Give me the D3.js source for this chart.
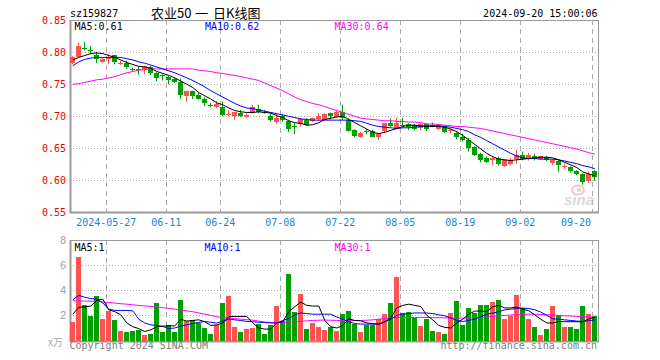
<!DOCTYPE html>
<html>
<head>
<meta charset="utf-8">
<script src="https://cdn.jsdelivr.net/npm/d3@7/dist/d3.min.js"></script>
<style>
html,body{margin:0;padding:0;background:#fff;}
svg{display:block;}
.mono{font-family:"DejaVu Sans Mono",monospace;font-size:10px;}
</style>
</head>
<body>
<svg id="chart" width="660" height="360"></svg>
<script>
// ---------------- data ----------------
const dates = ["05-17","05-20","05-21","05-22","05-23","05-24","05-27","05-28","05-29","05-30","05-31",
"06-03","06-04","06-05","06-06","06-07","06-11","06-12","06-13","06-14","06-17","06-18","06-19","06-20","06-21","06-24",
"06-25","06-26","06-27","06-28","07-01","07-02","07-03","07-04","07-05","07-08","07-09","07-10","07-11","07-12",
"07-15","07-16","07-17","07-18","07-19","07-22","07-23","07-24","07-25","07-26","07-29","07-30","07-31",
"08-01","08-02","08-05","08-06","08-07","08-08","08-09","08-12","08-13","08-14","08-15","08-16","08-19","08-20",
"08-21","08-22","08-23","08-26","08-27","08-28","08-29","08-30","09-02","09-03","09-04","09-05","09-06","09-09",
"09-10","09-11","09-12","09-13","09-18","09-19","09-20"];

const openP = [.783,.793,.806,.804,.796,.785,.790,.795,.783,.783,.774,.774,.772,.777,.767,.764,.762,.758,.753,.732,
.740,.734,.727,.717,.715,.714,.703,.700,.705,.699,.705,.712,.7075,.700,.692,.700,.693,.6855,.688,.695,
.693,.695,.695,.705,.699,.707,.695,.678,.668,.6765,.677,.668,.676,.690,.681,.6865,.688,.687,.681,.688,
.687,.680,.684,.677,.674,.668,.663,.652,.641,.635,.632,.635,.622,.626,.632,.640,.633,.638,.634,.636,
.626,.630,.621,.621,.615,.610,.599,.615];
const closeP = [.792,.810,.805,.803,.789,.790,.793,.784,.784,.776,.773,.773,.778,.768,.759,.763,.757,.754,.732,.740,
.732,.728,.721,.716,.720,.702,.704,.707,.700,.702,.715,.707,.707,.693,.698,.693,.680,.685,.696,.687,
.697,.700,.704,.700,.707,.697,.678,.668,.674,.676,.668,.672,.689,.685,.690,.686,.684,.681,.688,.680,
.686,.686,.676,.678,.667,.663,.650,.640,.632,.628,.635,.626,.631,.632,.639,.633,.640,.633,.638,.631,
.631,.624,.622,.615,.610,.598,.610,.605];
const highP = [.794,.815,.816,.810,.801,.792,.797,.796,.787,.787,.776,.777,.779,.779,.769,.766,.763,.760,.759,.740,
.740,.737,.730,.721,.724,.723,.710,.707,.710,.705,.718,.718,.710,.705,.705,.704,.695,.689,.698,.697,
.698,.705,.705,.706,.709,.718,.697,.680,.676,.680,.679,.673,.690,.697,.698,.698,.689,.688,.689,.689,
.690,.688,.686,.681,.676,.673,.666,.653,.643,.637,.637,.637,.633,.635,.648,.645,.643,.641,.638,.638,
.633,.632,.626,.622,.616,.611,.614,.616];
const lowP = [.781,.793,.803,.797,.783,.784,.781,.781,.780,.774,.770,.765,.766,.765,.755,.756,.750,.752,.727,.723,
.727,.726,.716,.714,.713,.700,.700,.694,.699,.698,.704,.705,.704,.692,.688,.691,.675,.672,.684,.685,
.691,.693,.694,.695,.698,.694,.676,.667,.667,.672,.667,.663,.674,.683,.679,.683,.679,.678,.678,.677,
.683,.679,.674,.673,.664,.661,.645,.638,.628,.627,.624,.623,.621,.623,.626,.631,.631,.631,.632,.630,
.624,.613,.618,.612,.608,.593,.596,.599];

const ma5P = [.788,.792,.795,.798,.799,.798,.795,.792,.788,.784,.781,.778,.777,.775,.770,.767,.764,.760,.755,.750,
.745,.737,.732,.727,.721,.718,.713,.709,.707,.706,.706,.707,.706,.705,.701,.698,.693,.690,.689,.686,
.687,.690,.695,.697,.699,.700,.695,.690,.685,.680,.675,.673,.675,.678,.681,.684,.686,.686,.685,.684,
.684,.684,.683,.680,.676,.670,.663,.656,.649,.642,.637,.633,.632,.631,.632,.633,.634,.635,.636,.636,
.635,.632,.628,.624,.620,.613,.610,.607];
const ma10P = [.779,.785,.789,.791,.792,.792,.792,.792,.792,.790,.788,.785,.783,.780,.777,.774,.771,.768,.764,.760,
.756,.751,.746,.740,.735,.730,.725,.720,.716,.713,.712,.710,.708,.706,.704,.702,.700,.698,.696,.695,
.694,.694,.694,.694,.694,.694,.694,.693,.692,.689,.686,.684,.683,.682,.681,.682,.682,.683,.684,.685,
.685,.685,.684,.683,.681,.679,.676,.671,.667,.662,.657,.652,.647,.642,.638,.635,.634,.634,.633,.633,
.633,.632,.630,.628,.626,.623,.621,.618];
const ma30P = [.750,.751,.753,.755,.757,.758,.760,.762,.765,.768,.770,.772,.773,.774,.774,.774,.774,.774,.774,.774,
.774,.772,.771,.770,.768,.767,.765,.764,.762,.760,.758,.756,.752,.748,.744,.740,.735,.730,.726,.723,
.720,.718,.715,.712,.709,.706,.703,.700,.697,.696,.695,.694,.693,.693,.692,.692,.691,.691,.690,.688,
.688,.687,.686,.685,.684,.684,.683,.682,.681,.679,.677,.675,.673,.671,.669,.667,.665,.663,.661,.659,
.657,.655,.653,.651,.649,.646,.643,.641];

const volume = [1.44,6.69,2.85,1.92,3.57,1.73,2.37,1.65,0.72,0.64,0.72,0.85,0.45,0.48,3.01,0.64,1.25,0.64,3.25,1.52,
1.63,1.36,0.99,0.53,1.20,3.01,3.57,1.09,0.69,0.93,1.01,1.28,0.48,1.25,2.77,1.57,5.33,2.29,3.73,0.93,
1.41,1.09,0.85,1.04,0.77,2.11,2.37,1.33,0.69,1.20,1.20,1.71,2.13,3.01,5.09,2.21,2.29,1.76,1.17,1.73,
0.77,0.67,0.53,2.21,3.17,1.25,2.61,2.19,2.80,2.85,3.09,3.25,1.73,1.97,3.65,2.59,1.73,1.09,0.45,0.93,
2.77,2.05,1.09,1.09,0.93,2.77,2.13,1.97];
const ma5V = [2.1,2.65,2.68,2.75,3.2,3.3,2.45,2.3,2.05,1.4,1.1,0.95,0.72,0.85,1.1,1.15,1.17,1.17,1.7,1.55,
1.6,1.65,1.5,1.2,1.25,1.4,1.9,1.92,1.92,1.92,1.4,1.0,0.91,0.91,1.4,1.5,2.3,2.7,3.07,2.8,
2.75,2.75,1.6,1.1,1.0,1.2,1.73,1.6,1.57,1.4,1.35,1.3,1.5,1.8,2.6,2.8,2.9,2.8,2.72,2.0,
1.65,1.2,1.05,1.0,1.4,1.7,2.1,2.35,2.35,2.32,2.7,2.8,2.6,2.6,2.67,2.5,2.37,2.05,1.7,1.4,
1.4,1.52,1.5,1.5,1.5,1.5,1.72,1.85];
const ma10V = [3.25,3.6,3.45,3.35,3.3,3.0,2.5,2.4,2.4,2.4,2.37,1.7,1.4,1.25,1.2,1.12,0.95,1.0,1.15,1.25,
1.35,1.45,1.52,1.45,1.39,1.55,1.71,1.65,1.6,1.52,1.5,1.45,1.44,1.4,1.39,1.6,1.75,2.05,2.2,2.15,
2.1,2.1,2.1,2.1,1.87,1.7,1.5,1.35,1.31,1.31,1.31,1.31,1.5,1.7,2.0,2.1,2.15,2.2,2.2,2.19,
2.15,2.05,1.97,1.8,1.6,1.52,1.6,1.71,1.9,2.1,2.19,2.3,2.45,2.5,2.55,2.59,2.55,2.45,2.27,2.0,
1.73,1.7,1.65,1.6,1.55,1.52,1.58,1.65];
const ma30V = [3.17,3.16,3.15,3.14,3.12,3.08,3.03,2.99,2.94,2.9,2.85,2.8,2.76,2.72,2.68,2.62,2.57,2.5,2.43,2.37,
2.3,2.2,2.11,2.0,1.9,1.82,1.79,1.75,1.71,1.66,1.62,1.55,1.47,1.44,1.44,1.44,1.47,1.5,1.53,1.57,
1.6,1.62,1.63,1.62,1.6,1.6,1.6,1.6,1.6,1.62,1.65,1.7,1.75,1.8,1.84,1.84,1.84,1.84,1.84,1.84,
1.83,1.82,1.81,1.8,1.79,1.79,1.8,1.82,1.85,1.88,1.92,1.96,2.0,2.03,2.05,2.08,2.11,2.1,2.08,2.06,
2.04,2.0,1.97,1.95,1.93,1.9,1.88,1.87];

const tickIdx = [6,16,25,35,45,55,65,75,87];
const tickLabels = ["2024-05-27","06-11","06-24","07-08","07-22","08-05","08-19","09-02","09-20"];
const priceTicks = [0.85,0.80,0.75,0.70,0.65,0.60,0.55];
const volTicks = [8,6,4,2];

// ---------------- drawing ----------------
const svg = d3.select("#chart");
const L = 70, R = 598;
const pTop = 20, pBot = 212, vTop = 240, vBot = 341;
const RED = "#ff5252", GREEN = "#00a000", GRID = "#aaaaaa", BORDER = "#9a9a9a";

const x = d3.scaleLinear().domain([0, dates.length]).range([L + 0.3, L + 0.3 + 6 * dates.length]);
const cx = i => x(i) + 2.5;
const yP = d3.scaleLinear().domain([0.55, 0.85]).range([pBot + 0.3, pTop + 0.3]);
const yV = d3.scaleLinear().domain([0, 8]).range([vBot - 0.5, vTop + 0.3]);

const crisp = v => Math.round(v) + 0.5;

function panelGrid(top, bot, yScale, hticks) {
  const g = svg.append("g");
  g.selectAll("line.h").data(hticks).enter().append("line")
    .attr("x1", L).attr("x2", R)
    .attr("y1", d => crisp(yScale(d))).attr("y2", d => crisp(yScale(d)))
    .attr("stroke", GRID).attr("stroke-width", 1).attr("stroke-dasharray", "1,2");
  g.selectAll("line.v").data(tickIdx).enter().append("line")
    .attr("x1", d => crisp(x(d))).attr("x2", d => crisp(x(d)))
    .attr("y1", top).attr("y2", bot)
    .attr("stroke", GRID).attr("stroke-width", 1).attr("stroke-dasharray", "5,4");
  g.append("rect").attr("x", L + 0.5).attr("y", top + 0.5).attr("width", R - L).attr("height", bot - top)
    .attr("fill", "none").attr("stroke", BORDER).attr("stroke-width", 1);
  g.append("line").attr("x1", L + 0.5).attr("x2", L + 0.5).attr("y1", top).attr("y2", bot + 1)
    .attr("stroke", BORDER).attr("stroke-width", 2);
  g.append("line").attr("x1", L).attr("x2", R + 1).attr("y1", bot + 0.5).attr("y2", bot + 0.5)
    .attr("stroke", BORDER).attr("stroke-width", 2);
}

panelGrid(pTop, pBot, yP, [0.80, 0.75, 0.70, 0.65, 0.60]);
panelGrid(vTop, vBot, yV, [6, 4, 2]);

// sina watermark
const wm = svg.append("g").attr("opacity", 0.55);
wm.append("ellipse").attr("cx", 578).attr("cy", 190).attr("rx", 6).attr("ry", 4.5)
  .attr("fill", "none").attr("stroke", "#f2a0a0").attr("stroke-width", 2);
wm.append("circle").attr("cx", 579).attr("cy", 190).attr("r", 2).attr("fill", "#f2a0a0");
wm.append("text").attr("x", 564).attr("y", 205).attr("font-family", "Liberation Sans, Arial, sans-serif")
  .attr("font-size", 15).attr("font-weight", "bold").attr("font-style", "italic")
  .attr("fill", "#bdbdbd").text("sina");

// candles
const idx = d3.range(dates.length);
const isUp = i => closeP[i] >= openP[i];
const cg = svg.append("g");
cg.selectAll("line.wick").data(idx).enter().append("line")
  .attr("x1", i => Math.floor(cx(i)) + 0.5).attr("x2", i => Math.floor(cx(i)) + 0.5)
  .attr("y1", i => yP(highP[i])).attr("y2", i => yP(lowP[i]))
  .attr("stroke", i => isUp(i) ? RED : GREEN).attr("stroke-width", 1);
cg.selectAll("rect.body").data(idx).enter().append("rect")
  .attr("x", i => Math.floor(x(i)))
  .attr("width", 5)
  .attr("y", i => Math.round(yP(Math.max(openP[i], closeP[i]))))
  .attr("height", i => Math.max(1, Math.round(Math.abs(yP(openP[i]) - yP(closeP[i])))))
  .attr("fill", i => isUp(i) ? RED : GREEN)
  .attr("shape-rendering", "crispEdges");

function maLine(arr, yScale, color, parent) {
  const line = d3.line().x((d, i) => cx(i)).y(d => yScale(d));
  parent.append("path").datum(arr).attr("d", line)
    .attr("fill", "none").attr("stroke", color).attr("stroke-width", 1);
}
const mg = svg.append("g");
maLine(ma30P, yP, "#ff00ff", mg);
maLine(ma10P, yP, "#0000ff", mg);
maLine(ma5P, yP, "#000000", mg);

// volume bars
const vg = svg.append("g");
vg.selectAll("rect.vol").data(idx).enter().append("rect")
  .attr("x", i => Math.floor(x(i)))
  .attr("width", 5)
  .attr("y", i => Math.round(yV(volume[i])))
  .attr("height", i => Math.round(yV(0)) - Math.round(yV(volume[i])))
  .attr("fill", i => isUp(i) ? RED : GREEN)
  .attr("shape-rendering", "crispEdges");
maLine(ma30V, yV, "#ff00ff", vg);
maLine(ma10V, yV, "#0000ff", vg);
maLine(ma5V, yV, "#000000", vg);

// ---- texts ----
const t = svg.append("g");
t.append("text").attr("class", "mono").attr("x", 70).attr("y", 17).attr("fill", "#000").text("sz159827");
const title = t.append("text").attr("y", 17.5)
  .attr("font-family", "Noto Sans CJK SC, sans-serif").attr("font-size", 13).attr("fill", "#000");
title.append("tspan").attr("x", 151).text("农业50");
title.append("tspan").attr("x", 195).text("一");
title.append("tspan").attr("x", 213).text("日K线图");
t.append("text").attr("class", "mono").attr("x", 597.5).attr("y", 17).attr("text-anchor", "end")
  .attr("fill", "#000").text("2024-09-20 15:00:06");

t.selectAll("text.py").data(priceTicks).enter().append("text").attr("class", "mono")
  .attr("x", 66).attr("y", d => yP(d) + 4).attr("text-anchor", "end")
  .attr("fill", "#ee0000").text(d => d.toFixed(2));

t.selectAll("text.dx").data(tickIdx).enter().append("text").attr("class", "mono")
  .attr("x", (d, i) => i === tickIdx.length - 1 ? 591 : x(d))
  .attr("y", 225.5)
  .attr("text-anchor", (d, i) => i === tickIdx.length - 1 ? "end" : "middle")
  .attr("fill", "#1a84d4").text((d, i) => tickLabels[i]);

const lastP = dates.length - 1;
t.append("text").attr("class", "mono").attr("x", 74.5).attr("y", 29.5).attr("fill", "#000")
  .text("MA5:" + ma5P[lastP].toFixed(2));
t.append("text").attr("class", "mono").attr("x", 205).attr("y", 29.5).attr("fill", "#0000ff")
  .text("MA10:" + ma10P[lastP].toFixed(2));
t.append("text").attr("class", "mono").attr("x", 334.5).attr("y", 29.5).attr("fill", "#ff00ff")
  .text("MA30:" + ma30P[lastP].toFixed(2));

t.append("text").attr("class", "mono").attr("x", 74.5).attr("y", 250.5).attr("fill", "#000")
  .text("MA5:" + Math.floor(ma5V[lastP]));
t.append("text").attr("class", "mono").attr("x", 204.5).attr("y", 250.5).attr("fill", "#0000ff")
  .text("MA10:" + Math.floor(ma10V[lastP]));
t.append("text").attr("class", "mono").attr("x", 334.5).attr("y", 250.5).attr("fill", "#ff00ff")
  .text("MA30:" + Math.floor(ma30V[lastP]));

t.selectAll("text.vy").data(volTicks).enter().append("text")
  .attr("x", 66).attr("y", d => yV(d) + 4).attr("text-anchor", "end")
  .attr("font-family", "Liberation Sans, Arial, sans-serif").attr("font-size", 11)
  .attr("fill", "#a0a0a0").text(d => d);
t.append("text").attr("x", 63).attr("y", 345.5).attr("text-anchor", "end")
  .attr("font-family", "Noto Sans CJK SC, sans-serif").attr("font-size", 10)
  .attr("fill", "#a8a8a8").text("x万");

t.append("text").attr("class", "mono").attr("x", 69.5).attr("y", 349).attr("fill", "#808080")
  .text("Copyright 2024 SINA.COM");
t.append("text").attr("class", "mono").attr("x", 597).attr("y", 349).attr("text-anchor", "end")
  .attr("fill", "#808080").text("http://finance.sina.com.cn");
</script>
</body>
</html>
